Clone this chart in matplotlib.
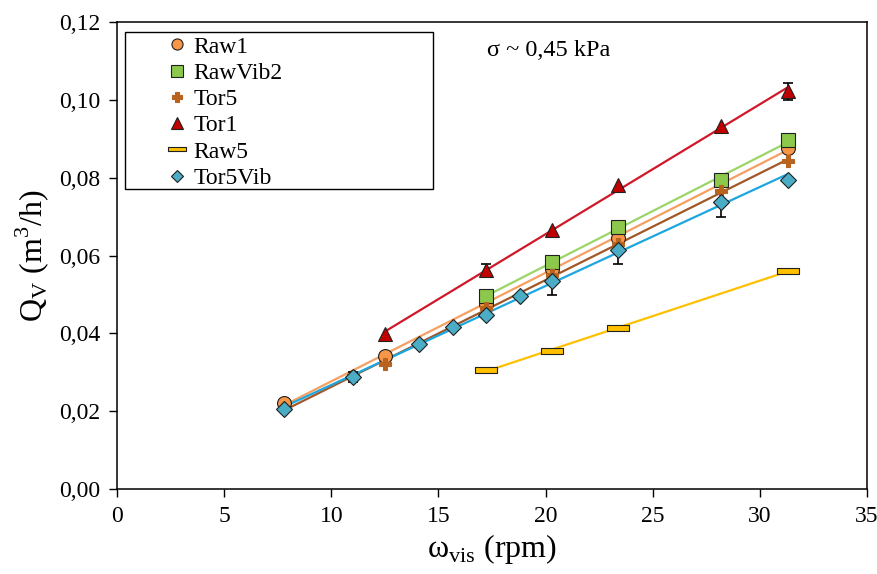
import matplotlib
matplotlib.use("Agg")
import matplotlib.pyplot as plt
import numpy as np
from matplotlib.patches import Rectangle
from matplotlib.path import Path
from matplotlib.ticker import FuncFormatter

plt.rcParams["font.family"] = ["Liberation Serif", "DejaVu Serif"]
plt.rcParams["mathtext.fontset"] = "custom"
plt.rcParams["mathtext.rm"] = "Liberation Serif"

# --- data -----------------------------------------------------------------------------------
raw1_x = [7.8, 12.5, 17.2, 20.3, 23.4, 31.3]
raw1_y = [0.0222, 0.0342, 0.0475, 0.0565, 0.0645, 0.0876]

rawvib2_x = [17.2, 20.3, 23.4, 28.2, 31.3]
rawvib2_y = [0.0495, 0.0583, 0.0673, 0.0794, 0.0897]

tor5_x = [7.8, 11.0, 12.5, 17.2, 20.3, 23.4, 28.2, 31.3]
tor5_y = [0.0205, 0.0290, 0.0321, 0.0465, 0.0550, 0.0630, 0.0765, 0.0842]

tor1_x = [12.5, 17.2, 20.3, 23.4, 28.2, 31.3]
tor1_y = [0.0398, 0.0563, 0.0665, 0.0780, 0.0932, 0.1022]
tor1_err = [0.0, 0.0015, 0.0, 0.0, 0.0, 0.0022]

raw5_x = [17.2, 20.3, 23.4, 31.3]
raw5_y = [0.0305, 0.0355, 0.0415, 0.0560]

tor5vib_x = [7.8, 11.0, 14.1, 15.7, 17.2, 18.8, 20.3, 23.4, 28.2, 31.3]
tor5vib_y = [0.0206, 0.0288, 0.0373, 0.0417, 0.0448, 0.0496, 0.0534, 0.0614, 0.0738, 0.0794]
tor5vib_err = [0.0, 0.0012, 0.0, 0.0, 0.0, 0.0, 0.0035, 0.0037, 0.0040, 0.0]

x_ticks = [0, 5, 10, 15, 20, 25, 30, 35]
y_ticks = [0.00, 0.02, 0.04, 0.06, 0.08, 0.10, 0.12]

# flat bar marker used for Raw5
BAR = Path([(-1, -0.28), (1, -0.28), (1, 0.28), (-1, 0.28), (-1, -0.28)],
           [Path.MOVETO, Path.LINETO, Path.LINETO, Path.LINETO, Path.CLOSEPOLY])

series = [
    # label, x, y, err, marker, size, face, line colour
    ("Raw1", raw1_x, raw1_y, None, "o", 10, "#F79646", "#F4A062"),
    ("RawVib2", rawvib2_x, rawvib2_y, None, "s", 10.5, "#8CC84B", "#9BD567"),
    ("Tor5", tor5_x, tor5_y, None, "P", 9, "#B8631E", "#A0582A"),
    ("Tor1", tor1_x, tor1_y, tor1_err, "^", 10, "#C00000", "#D0182A"),
    ("Raw5", raw5_x, raw5_y, None, BAR, 16, "#FFC000", "#FFC000"),
    ("Tor5Vib", tor5vib_x, tor5vib_y, tor5vib_err, "D", 8, "#4BACC6", "#1CA6E0"),
]

fig = plt.figure(figsize=(8.78, 5.74), dpi=100)
ax = fig.add_axes([0.1333, 0.148, 0.8542, 0.8137])

handles = []
for label, xs, ys, err, mk, ms, face, lc in series:
    xs = np.array(xs)
    ys = np.array(ys)
    k, b = np.polyfit(xs, ys, 1)   # linear trend line, as in the source
    xl = np.array([xs.min(), xs.max()])
    ax.plot(xl, k * xl + b, color=lc, lw=1.6, zorder=2)
    if err is not None:
        e = np.array(err)
        m = e > 0
        ax.errorbar(xs[m], ys[m], yerr=e[m], fmt="none", ecolor="black",
                    elinewidth=1.2, capsize=3.5, capthick=1.2, zorder=3)
    edge = face if mk == "P" else "#202020"
    h, = ax.plot(xs, ys, ls="none", marker=mk, ms=ms, mfc=face, mec=edge,
                 mew=0.8, zorder=4, label=label)
    handles.append(h)

ax.set_xlim(0, 35)
ax.set_ylim(0, 0.12)
ax.set_xticks(x_ticks)
ax.set_yticks(y_ticks)
ax.yaxis.set_major_formatter(FuncFormatter(lambda v, p: f"{v:.2f}".replace(".", ",")))
ax.tick_params(direction="out", length=6, width=1, labelsize=17, pad=6)
for s in ax.spines.values():
    s.set_linewidth(1.1)

ax.set_xlabel("ω$_{\\rm vis}$ (rpm)", fontsize=23, labelpad=4)
ax.set_ylabel("Q$_{\\rm V}$ (m$^3$/h)", fontsize=23, labelpad=6)

ax.text(0.493, 0.94, "σ ~ 0,45 kPa", transform=ax.transAxes, fontsize=17.5,
        ha="left", va="center")

# legend box (drawn as a plain rectangle, wider than the entries)
ax.add_patch(Rectangle((0.0107, 0.642), 0.411, 0.336, transform=ax.transAxes,
                       fill=False, edgecolor="black", lw=1.0, zorder=5))
ax.legend(handles=handles, loc="upper left", bbox_to_anchor=(0.048, 1.0),
          frameon=False, fontsize=17, handlelength=0.8, handletextpad=0.3,
          labelspacing=0.2, borderpad=0.1, markerscale=0.8)

fig.savefig("out.png", dpi=100)
